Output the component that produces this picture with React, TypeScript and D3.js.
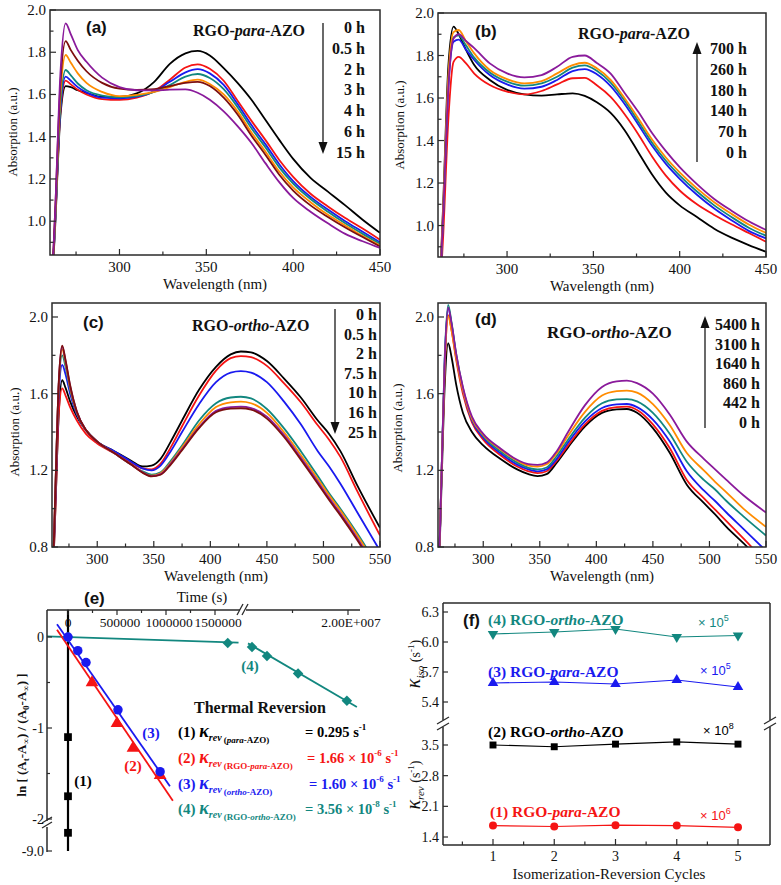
import React from 'react';
import * as d3 from 'd3';

const SERIF = '"Liberation Serif", "Times New Roman", "DejaVu Serif", serif';
const SANS = '"Liberation Sans", Arial, sans-serif';

const BLACK = '#000000';
const RED = '#f51414';
const BLUE = '#1a1aef';
const TEAL = '#12877f';
const ORANGE = '#ff8c00';
const BROWN = '#7d0f0f';
const PURPLE = '#8a1a9b';

// ---------- panel (a) / (b) wavelength grid ----------
const WL_AB = [260, 263, 266, 269, 272, 276, 281, 290, 300, 310, 320, 329, 338, 345, 352, 360, 368, 376, 384, 392, 400, 410, 420, 430, 440, 450];

const A_0H = [0.5, 0.98, 1.5, 1.64, 1.635, 1.62, 1.607, 1.588, 1.588, 1.605, 1.66, 1.745, 1.795, 1.806, 1.785, 1.725, 1.655, 1.575, 1.48, 1.385, 1.295, 1.205, 1.14, 1.075, 1.007, 0.945];
const A_05H = [0.5, 1.0, 1.52, 1.666, 1.648, 1.622, 1.6, 1.578, 1.574, 1.585, 1.615, 1.67, 1.728, 1.743, 1.722, 1.665, 1.57, 1.475, 1.385, 1.29, 1.21, 1.13, 1.07, 1.015, 0.965, 0.912];
const A_2H = [0.5, 1.0, 1.53, 1.685, 1.665, 1.635, 1.61, 1.585, 1.582, 1.59, 1.615, 1.66, 1.705, 1.72, 1.70, 1.645, 1.555, 1.455, 1.365, 1.27, 1.19, 1.115, 1.055, 1.0, 0.95, 0.90];
const A_3H = [0.5, 1.0, 1.55, 1.716, 1.69, 1.652, 1.62, 1.595, 1.587, 1.592, 1.612, 1.645, 1.685, 1.697, 1.678, 1.625, 1.54, 1.44, 1.35, 1.255, 1.178, 1.105, 1.045, 0.99, 0.94, 0.893];
const A_4H = [0.5, 1.02, 1.6, 1.787, 1.75, 1.70, 1.655, 1.612, 1.592, 1.598, 1.612, 1.635, 1.66, 1.67, 1.65, 1.60, 1.52, 1.42, 1.33, 1.235, 1.16, 1.09, 1.03, 0.98, 0.93, 0.885];
const A_6H = [0.5, 1.05, 1.65, 1.853, 1.81, 1.76, 1.71, 1.655, 1.628, 1.622, 1.625, 1.64, 1.655, 1.66, 1.64, 1.585, 1.505, 1.405, 1.315, 1.22, 1.145, 1.075, 1.02, 0.97, 0.925, 0.88];
const A_15H = [0.5, 1.05, 1.7, 1.937, 1.885, 1.81, 1.755, 1.68, 1.635, 1.62, 1.619, 1.623, 1.624, 1.608, 1.575, 1.52, 1.45, 1.37, 1.275, 1.185, 1.11, 1.045, 0.99, 0.94, 0.905, 0.873];
const A_LABELS = ['0 h', '0.5 h', '2 h', '3 h', '4 h', '6 h', '15 h'];

const B_0H = [0.5, 1.1, 1.75, 1.936, 1.90, 1.83, 1.755, 1.685, 1.638, 1.617, 1.611, 1.617, 1.622, 1.61, 1.58, 1.53, 1.45, 1.345, 1.24, 1.155, 1.095, 1.04, 0.985, 0.943, 0.908, 0.877];
const B_70H = [0.5, 0.95, 1.5, 1.77, 1.794, 1.765, 1.715, 1.661, 1.63, 1.617, 1.633, 1.664, 1.693, 1.695, 1.66, 1.605, 1.525, 1.43, 1.325, 1.235, 1.165, 1.10, 1.05, 1.006, 0.965, 0.924];
const B_140H = [0.5, 1.05, 1.65, 1.865, 1.875, 1.83, 1.779, 1.708, 1.664, 1.644, 1.653, 1.685, 1.727, 1.736, 1.712, 1.656, 1.573, 1.475, 1.375, 1.29, 1.22, 1.145, 1.08, 1.025, 0.975, 0.94];
const B_180H = [0.5, 1.06, 1.68, 1.885, 1.895, 1.85, 1.79, 1.72, 1.677, 1.658, 1.669, 1.70, 1.743, 1.754, 1.728, 1.672, 1.588, 1.49, 1.39, 1.305, 1.235, 1.16, 1.095, 1.04, 0.99, 0.952];
const B_260H = [0.5, 1.08, 1.7, 1.91, 1.92, 1.87, 1.81, 1.732, 1.689, 1.669, 1.68, 1.716, 1.755, 1.766, 1.74, 1.685, 1.60, 1.505, 1.405, 1.32, 1.25, 1.175, 1.11, 1.055, 1.005, 0.965];
const B_700H = [0.5, 1.05, 1.65, 1.88, 1.90, 1.87, 1.835, 1.763, 1.716, 1.697, 1.708, 1.747, 1.794, 1.80, 1.765, 1.715, 1.625, 1.535, 1.435, 1.35, 1.275, 1.195, 1.125, 1.07, 1.02, 0.979];
const B_LABELS = ['700 h', '260 h', '180 h', '140 h', '70 h', '0 h'];

// ---------- panel (c) / (d) wavelength grid ----------
const WL_CD = [260, 263, 266, 269, 272, 276, 282, 290, 300, 315, 330, 340, 348, 356, 365, 375, 390, 405, 418, 427, 436, 450, 465, 480, 495, 505, 515, 530, 550];

const C_0H = [0.5, 1.0, 1.5, 1.67, 1.63, 1.56, 1.48, 1.41, 1.35, 1.30, 1.25, 1.22, 1.225, 1.26, 1.35, 1.46, 1.62, 1.74, 1.805, 1.82, 1.815, 1.77, 1.68, 1.58, 1.46, 1.39, 1.30, 1.12, 0.90];
const C_05H = [0.5, 1.0, 1.5, 1.628, 1.59, 1.53, 1.46, 1.39, 1.34, 1.29, 1.24, 1.21, 1.205, 1.235, 1.32, 1.43, 1.59, 1.72, 1.785, 1.796, 1.79, 1.745, 1.655, 1.555, 1.435, 1.36, 1.27, 1.09, 0.86];
const C_2H = [0.5, 1.05, 1.6, 1.75, 1.70, 1.60, 1.49, 1.41, 1.35, 1.30, 1.245, 1.21, 1.20, 1.225, 1.30, 1.40, 1.545, 1.66, 1.71, 1.718, 1.71, 1.66, 1.56, 1.44, 1.30, 1.22, 1.13, 0.98, 0.78];
const C_75H = [0.5, 1.1, 1.65, 1.80, 1.74, 1.62, 1.50, 1.41, 1.35, 1.29, 1.23, 1.195, 1.178, 1.19, 1.25, 1.33, 1.46, 1.55, 1.58, 1.584, 1.575, 1.52, 1.42, 1.30, 1.17, 1.08, 1.0, 0.87, 0.68];
const C_10H = [0.5, 1.1, 1.65, 1.83, 1.76, 1.63, 1.50, 1.41, 1.35, 1.29, 1.23, 1.19, 1.172, 1.185, 1.24, 1.32, 1.44, 1.53, 1.555, 1.558, 1.55, 1.50, 1.40, 1.28, 1.155, 1.07, 0.99, 0.86, 0.67];
const C_16H = [0.5, 1.1, 1.66, 1.845, 1.77, 1.64, 1.505, 1.41, 1.35, 1.29, 1.23, 1.19, 1.17, 1.18, 1.235, 1.31, 1.425, 1.51, 1.53, 1.532, 1.525, 1.48, 1.385, 1.265, 1.14, 1.055, 0.975, 0.845, 0.65];
const C_25H = [0.5, 1.1, 1.66, 1.85, 1.775, 1.645, 1.505, 1.41, 1.35, 1.29, 1.23, 1.188, 1.168, 1.177, 1.23, 1.305, 1.42, 1.503, 1.522, 1.524, 1.517, 1.47, 1.375, 1.255, 1.13, 1.045, 0.965, 0.835, 0.64];
const C_LABELS = ['0 h', '0.5 h', '2 h', '7.5 h', '10 h', '16 h', '25 h'];

const D_0H = [0.5, 1.1, 1.65, 1.863, 1.79, 1.65, 1.50, 1.40, 1.33, 1.26, 1.205, 1.18, 1.17, 1.18, 1.24, 1.32, 1.43, 1.50, 1.518, 1.52, 1.50, 1.42, 1.29, 1.125, 1.03, 0.97, 0.905, 0.82, 0.70];
const D_442H = [0.5, 1.15, 1.75, 2.01, 1.93, 1.78, 1.60, 1.45, 1.36, 1.28, 1.22, 1.195, 1.185, 1.195, 1.25, 1.33, 1.44, 1.51, 1.53, 1.532, 1.515, 1.44, 1.315, 1.15, 1.055, 0.995, 0.935, 0.845, 0.72];
const D_860H = [0.5, 1.15, 1.78, 2.045, 1.96, 1.80, 1.62, 1.46, 1.37, 1.29, 1.23, 1.205, 1.195, 1.205, 1.26, 1.345, 1.455, 1.525, 1.544, 1.546, 1.53, 1.465, 1.35, 1.195, 1.095, 1.04, 0.98, 0.895, 0.78];
const D_1640H = [0.5, 1.15, 1.8, 2.063, 1.97, 1.81, 1.63, 1.47, 1.38, 1.30, 1.24, 1.213, 1.205, 1.215, 1.275, 1.36, 1.475, 1.55, 1.57, 1.572, 1.56, 1.50, 1.39, 1.245, 1.15, 1.10, 1.04, 0.96, 0.86];
const D_3100H = [0.5, 1.15, 1.75, 2.005, 1.93, 1.79, 1.62, 1.47, 1.385, 1.31, 1.25, 1.225, 1.22, 1.232, 1.29, 1.38, 1.505, 1.59, 1.613, 1.616, 1.605, 1.545, 1.435, 1.29, 1.20, 1.14, 1.085, 1.0, 0.905];
const D_5400H = [0.5, 1.15, 1.78, 2.05, 1.965, 1.81, 1.635, 1.48, 1.39, 1.315, 1.255, 1.232, 1.228, 1.24, 1.30, 1.40, 1.54, 1.635, 1.664, 1.668, 1.655, 1.60, 1.49, 1.35, 1.26, 1.205, 1.15, 1.07, 0.98];
const D_LABELS = ['5400 h', '3100 h', '1640 h', '860 h', '442 h', '0 h'];

// ---------- panel (e) ----------
const E1_T = [0, 0, 0];
const E1_V = [-1.1, -1.75, -8.35];
const E1_FIT_V = [0.3, -9.0];
const E2_T = [245000, 500000, 663000, 940000];
const E2_V = [-0.5, -0.95, -1.22, -1.52];
const E2_FIT_T = [-112000, 1070000];
const E2_FIT_V = [0.08, -1.8];
const E3_T = [0, 100000, 184000, 510000, 940000];
const E3_V = [0, -0.15, -0.28, -0.8, -1.48];
const E3_FIT_T = [-112000, 1040000];
const E3_FIT_V = [0.14, -1.64];
const E4_T = [0, 1630000, 2700000, 5400000, 11000000, 19800000];
const E4_V = [0, -0.066, -0.11, -0.21, -0.4, -0.7];
const E4_FIT1_T = [-214000, 1740000];
const E4_FIT1_V = [0.0075, -0.062];
const E4_FIT2_T = [1980000, 21600000];
const E4_FIT2_V = [-0.07, -0.77];
const E_TOP_TICKS = [0, 500000, 1000000, 1500000, 20000000];
const E_TOP_LABELS = ['0', '500000', '1000000', '1500000', '2.00E+007'];
const E_TOP_MINOR = [250000, 750000, 1250000, 10000000];
const E_LEFT_TICKS = [0, -1, -2, -9];
const E_LEFT_LABELS = ['0', '-1', '-2', '-9.0'];
const E_LEFT_MINOR = [-0.5, -1.5];

// ---------- panel (f) ----------
const F_CYCLES = [1, 2, 3, 4, 5];
const F4_ISO = [6.08, 6.1, 6.13, 6.05, 6.065];
const F3_ISO = [5.59, 5.6, 5.58, 5.62, 5.55];
const F2_REV = [3.5, 3.46, 3.52, 3.57, 3.52];
const F1_REV = [1.66, 1.64, 1.67, 1.66, 1.62];
const F_UP_TICKS = [6.3, 6.0, 5.7, 5.4];
const F_LOW_TICKS = [3.5, 2.8, 2.1, 1.4];

type SpecProps = {
  id: string; left: number; right: number; top: number; bottom: number;
  xDomain: [number, number]; yDomain: [number, number];
  xTicks: number[]; xMinor: number[]; yTicks: number[]; yMinor: number[];
  wl: number[]; curves: number[][]; colors: string[];
  yTitleX: number; yTitleY: number; yTitle: string;
};

function Spectrum(p: SpecProps) {
  const x = d3.scaleLinear().domain(p.xDomain).range([p.left, p.right]);
  const y = d3.scaleLinear().domain(p.yDomain).range([p.bottom, p.top]);
  const line = d3.line<number>().x((_, i) => x(p.wl[i])).y((d) => y(d)).curve(d3.curveMonotoneX);
  const fmt = d3.format('.1f');
  const ax = '#2a2a2a';
  return (
    <g>
      <clipPath id={p.id}>
        <rect x={p.left} y={p.top} width={p.right - p.left} height={p.bottom - p.top} />
      </clipPath>
      <g clipPath={`url(#${p.id})`}>
        {p.curves.map((c, i) => (
          <path key={i} d={line(c) ?? ''} fill="none" stroke={p.colors[i]} strokeWidth={1.8} strokeLinejoin="round" />
        ))}
      </g>
      <rect x={p.left} y={p.top} width={p.right - p.left} height={p.bottom - p.top} fill="none" stroke={ax} strokeWidth={1.5} />
      {p.xTicks.map((t) => (
        <g key={'xt' + t}>
          <line x1={x(t)} x2={x(t)} y1={p.bottom} y2={p.bottom - 6} stroke={ax} strokeWidth={1.2} />
          <text x={x(t)} y={p.bottom + 17} textAnchor="middle" fontSize={15} fontFamily={SERIF} fill="#111">{t}</text>
        </g>
      ))}
      {p.xMinor.map((t) => (
        <line key={'xm' + t} x1={x(t)} x2={x(t)} y1={p.bottom} y2={p.bottom - 3.5} stroke={ax} strokeWidth={1.2} />
      ))}
      {p.yTicks.map((t) => (
        <g key={'yt' + t}>
          <line x1={p.left} x2={p.left + 6} y1={y(t)} y2={y(t)} stroke={ax} strokeWidth={1.2} />
          <text x={p.left - 4} y={y(t) + 5} textAnchor="end" fontSize={15} fontFamily={SERIF} fill="#111">{fmt(t)}</text>
        </g>
      ))}
      {p.yMinor.map((t) => (
        <line key={'ym' + t} x1={p.left} x2={p.left + 3.5} y1={y(t)} y2={y(t)} stroke={ax} strokeWidth={1.2} />
      ))}
      <text x={(p.left + p.right) / 2} y={p.bottom + 34} textAnchor="middle" fontSize={15} fontFamily={SERIF} fill="#111">Wavelength (nm)</text>
      <text transform={`translate(${p.yTitleX},${p.yTitleY}) rotate(-90)`} textAnchor="middle" fontSize={13} fontFamily={SERIF} fill="#111">{p.yTitle}</text>
    </g>
  );
}

function Arrow({ x, yFrom, yTo }: { x: number; yFrom: number; yTo: number }) {
  const dir = yTo > yFrom ? 1 : -1;
  return (
    <g>
      <line x1={x} x2={x} y1={yFrom} y2={yTo - dir * 8} stroke="#444" strokeWidth={1.6} />
      <path d={`M${x - 4.5},${yTo - dir * 12} L${x + 4.5},${yTo - dir * 12} L${x},${yTo} Z`} fill="#111" />
    </g>
  );
}

function Labels({ labels, xRight, y0, step }: { labels: string[]; xRight: number; y0: number; step: number }) {
  return (
    <g>
      {labels.map((l, i) => (
        <text key={i} x={xRight} y={y0 + i * step} textAnchor="end" fontWeight="bold" fontSize={16} fontFamily={SERIF} fill="#111">{l}</text>
      ))}
    </g>
  );
}

function Title({ x, y, mid, size }: { x: number; y: number; mid: string; size: number }) {
  return (
    <text x={x} y={y} fontWeight="bold" fontSize={size} fontFamily={SERIF} fill="#111">
      RGO-<tspan fontStyle="italic">{mid}</tspan>-AZO
    </text>
  );
}

function EqLine(p: { y: number; color: string; num: string; pre: string; it: string; post: string; vx: number; val: string; exp: string; tail?: string; exp2?: string }) {
  return (
    <g fill={p.color} fontFamily={SERIF}>
      <text x={178} y={p.y} fontSize={15} fontWeight="bold">
        {p.num} <tspan fontStyle="italic" fontSize={18}>κ</tspan>
        <tspan fontStyle="italic" fontSize={10} dy={4}>rev</tspan>
        <tspan fontSize={9} dy={2}> {p.pre}</tspan>
        <tspan fontSize={9} fontStyle="italic">{p.it}</tspan>
        <tspan fontSize={9}>{p.post}</tspan>
      </text>
      <text x={p.vx} y={p.y} fontSize={14.5} fontWeight="bold">
        {p.val}<tspan fontSize={9} dy={-7}>{p.exp}</tspan>
        {p.tail ? <tspan dy={7}>{p.tail}</tspan> : null}
        {p.exp2 ? <tspan fontSize={9} dy={-7}>{p.exp2}</tspan> : null}
      </text>
    </g>
  );
}

function PanelE() {
  const sx1 = d3.scaleLinear().domain([0, 1.5e6]).range([68, 215]);
  const sx2 = d3.scaleLinear().domain([1.8e6, 2.0e7]).range([247, 348]);
  const ex = (t: number) => (t < 1.79e6 ? sx1(t) : sx2(t));
  const eyU = d3.scaleLinear().domain([0, -1]).range([637, 728]);
  const eyL = d3.scaleLinear().domain([-9, -8]).range([851, 823]);
  const ey = (v: number) => (v > -4 ? eyU(v) : eyL(v));
  const seg = (ts: number[], vs: number[]) =>
    d3.line<number>().x((_, i) => ex(ts[i])).y((_, i) => ey(vs[i]))(ts) ?? '';
  const sq = d3.symbol().type(d3.symbolSquare).size(60)() ?? '';
  const circ = d3.symbol().type(d3.symbolCircle).size(70)() ?? '';
  const tri = d3.symbol().type(d3.symbolTriangle).size(70)() ?? '';
  const dia = d3.symbol().type(d3.symbolSquare).size(55)() ?? '';
  const ax = '#2a2a2a';
  const topY = 610;
  const leftX = 47;
  return (
    <g fontFamily={SERIF}>
      <path d={seg([0, 0], E1_FIT_V)} stroke={BLACK} strokeWidth={2.2} fill="none" />
      <path d={seg(E4_FIT1_T, E4_FIT1_V)} stroke={TEAL} strokeWidth={1.8} fill="none" />
      <path d={seg(E4_FIT2_T, E4_FIT2_V)} stroke={TEAL} strokeWidth={1.8} fill="none" />
      <path d={seg(E2_FIT_T, E2_FIT_V)} stroke={RED} strokeWidth={1.8} fill="none" />
      <path d={seg(E3_FIT_T, E3_FIT_V)} stroke={BLUE} strokeWidth={1.8} fill="none" />
      {E1_T.map((t, i) => <path key={'e1' + i} d={sq} transform={`translate(${ex(t)},${ey(E1_V[i])})`} fill={BLACK} />)}
      {E2_T.map((t, i) => <path key={'e2' + i} d={tri} transform={`translate(${ex(t)},${ey(E2_V[i])})`} fill={RED} />)}
      {E4_T.map((t, i) => <path key={'e4' + i} d={dia} transform={`translate(${ex(t)},${ey(E4_V[i])}) rotate(45)`} fill={TEAL} />)}
      {E3_T.map((t, i) => <path key={'e3' + i} d={circ} transform={`translate(${ex(t)},${ey(E3_V[i])})`} fill={BLUE} />)}
      <line x1={leftX} x2={240} y1={topY} y2={topY} stroke={ax} strokeWidth={1.5} />
      <line x1={246} x2={360} y1={topY} y2={topY} stroke={ax} strokeWidth={1.5} />
      <line x1={237} x2={243} y1={615} y2={604} stroke={ax} strokeWidth={1.3} />
      <line x1={242} x2={248} y1={615} y2={604} stroke={ax} strokeWidth={1.3} />
      {E_TOP_TICKS.map((t, i) => (
        <g key={'tt' + t}>
          <line x1={ex(t)} x2={ex(t)} y1={topY} y2={topY + 5} stroke={ax} strokeWidth={1.2} />
          <text x={ex(t) + (i === 0 ? 0 : 3)} y={topY + 17} textAnchor="middle" fontSize={13.5} fill="#111">{E_TOP_LABELS[i]}</text>
        </g>
      ))}
      {E_TOP_MINOR.map((t) => <line key={'tm' + t} x1={ex(t)} x2={ex(t)} y1={topY} y2={topY + 3} stroke={ax} strokeWidth={1.2} />)}
      <text x={202} y={602} textAnchor="middle" fontSize={15} fill="#111">Time (s)</text>
      <text x={84} y={604} fontSize={17} fontWeight="bold" fontFamily={SANS} fill="#111">(e)</text>
      <line x1={leftX} x2={leftX} y1={topY} y2={821} stroke={ax} strokeWidth={1.5} />
      <line x1={leftX} x2={leftX} y1={827} y2={852} stroke={ax} strokeWidth={1.5} />
      <line x1={42} x2={52} y1={823} y2={817} stroke={ax} strokeWidth={1.3} />
      <line x1={42} x2={52} y1={828} y2={822} stroke={ax} strokeWidth={1.3} />
      {E_LEFT_TICKS.map((v, i) => (
        <g key={'lt' + v}>
          <line x1={leftX} x2={leftX + 5} y1={ey(v)} y2={ey(v)} stroke={ax} strokeWidth={1.2} />
          <text x={leftX - 3} y={ey(v) + 5} textAnchor="end" fontSize={14} fill="#111">{E_LEFT_LABELS[i]}</text>
        </g>
      ))}
      {E_LEFT_MINOR.map((v) => <line key={'lm' + v} x1={leftX} x2={leftX + 3} y1={ey(v)} y2={ey(v)} stroke={ax} strokeWidth={1.2} />)}
      <text transform="translate(26,735) rotate(-90)" textAnchor="middle" fontSize={13} fontWeight="bold" fill="#111">
        ln [ (A<tspan fontSize={9} dy={3}>t</tspan><tspan dy={-3}>-A</tspan><tspan fontSize={9} dy={3}>∞</tspan><tspan dy={-3}>) / (A</tspan><tspan fontSize={9} dy={3}>0</tspan><tspan dy={-3}>-A</tspan><tspan fontSize={9} dy={3}>∞</tspan><tspan dy={-3}>) ]</tspan>
      </text>
      <text x={83} y={786} textAnchor="middle" fontSize={15} fontWeight="bold" fill={BLACK}>(1)</text>
      <text x={133} y={771} textAnchor="middle" fontSize={15} fontWeight="bold" fill={RED}>(2)</text>
      <text x={151} y={738} textAnchor="middle" fontSize={15} fontWeight="bold" fill={BLUE}>(3)</text>
      <text x={250} y={671} textAnchor="middle" fontSize={15} fontWeight="bold" fill={TEAL}>(4)</text>
      <text x={260} y={713} textAnchor="middle" fontSize={16} fontWeight="bold" fill="#111">Thermal Reversion</text>
      <EqLine y={737} color={BLACK} num="(1)" pre="(" it="para" post="-AZO)" vx={305} val="= 0.295 s" exp="-1" />
      <EqLine y={763} color={RED} num="(2)" pre="(RGO-" it="para" post="-AZO)" vx={307} val="= 1.66 × 10" exp="-6" tail=" s" exp2="-1" />
      <EqLine y={789} color={BLUE} num="(3)" pre="(" it="ortho" post="-AZO)" vx={309} val="= 1.60 × 10" exp="-6" tail=" s" exp2="-1" />
      <EqLine y={814} color={TEAL} num="(4)" pre="(RGO-" it="ortho" post="-AZO)" vx={305} val="= 3.56 × 10" exp="-8" tail=" s" exp2="-1" />
    </g>
  );
}

function Mult({ x, y, exp, color }: { x: number; y: number; exp: string; color: string }) {
  return (
    <text x={x} y={y} fontSize={13} fontFamily={SANS} fill={color}>
      × 10<tspan fontSize={9} dy={-6}>{exp}</tspan>
    </text>
  );
}

function PanelF() {
  const L = 443, R = 770, T = 603, B = 845;
  const fx = d3.scaleLinear().domain([1, 5]).range([493, 738]);
  const fyU = d3.scaleLinear().domain([6.0, 6.3]).range([642, 612]);
  const fyL = d3.scaleLinear().domain([1.4, 3.5]).range([837, 745]);
  const ax = '#2a2a2a';
  const lineU = d3.line<number>().x((_, i) => fx(F_CYCLES[i])).y((d) => fyU(d));
  const lineL = d3.line<number>().x((_, i) => fx(F_CYCLES[i])).y((d) => fyL(d));
  const sq = d3.symbol().type(d3.symbolSquare).size(48)() ?? '';
  const circ = d3.symbol().type(d3.symbolCircle).size(50)() ?? '';
  const tri = d3.symbol().type(d3.symbolTriangle).size(48)() ?? '';
  const fmt = d3.format('.1f');
  return (
    <g fontFamily={SERIF}>
      <path d={lineU(F4_ISO) ?? ''} stroke={TEAL} fill="none" strokeWidth={1.2} />
      <path d={lineU(F3_ISO) ?? ''} stroke={BLUE} fill="none" strokeWidth={1.2} />
      <path d={lineL(F2_REV) ?? ''} stroke={BLACK} fill="none" strokeWidth={1.2} />
      <path d={lineL(F1_REV) ?? ''} stroke={RED} fill="none" strokeWidth={1.2} />
      {F_CYCLES.map((c, i) => (
        <g key={'fm' + c}>
          <path d={tri} transform={`translate(${fx(c)},${fyU(F4_ISO[i])}) rotate(180)`} fill={TEAL} />
          <path d={tri} transform={`translate(${fx(c)},${fyU(F3_ISO[i])})`} fill={BLUE} />
          <path d={sq} transform={`translate(${fx(c)},${fyL(F2_REV[i])})`} fill={BLACK} />
          <path d={circ} transform={`translate(${fx(c)},${fyL(F1_REV[i])})`} fill={RED} />
        </g>
      ))}
      <line x1={L} x2={R} y1={T} y2={T} stroke={ax} strokeWidth={1.5} />
      <line x1={L} x2={R} y1={B} y2={B} stroke={ax} strokeWidth={1.5} />
      <line x1={L} x2={L} y1={T} y2={720} stroke={ax} strokeWidth={1.5} />
      <line x1={L} x2={L} y1={727} y2={B} stroke={ax} strokeWidth={1.5} />
      <line x1={R} x2={R} y1={T} y2={720} stroke={ax} strokeWidth={1.5} />
      <line x1={R} x2={R} y1={727} y2={B} stroke={ax} strokeWidth={1.5} />
      <line x1={L - 6} x2={L + 6} y1={724} y2={717} stroke={ax} strokeWidth={1.3} />
      <line x1={L - 6} x2={L + 6} y1={730} y2={723} stroke={ax} strokeWidth={1.3} />
      <line x1={R - 6} x2={R + 6} y1={724} y2={717} stroke={ax} strokeWidth={1.3} />
      <line x1={R - 6} x2={R + 6} y1={730} y2={723} stroke={ax} strokeWidth={1.3} />
      {F_UP_TICKS.map((v) => (
        <g key={'fu' + v}>
          <line x1={L} x2={L + 5} y1={fyU(v)} y2={fyU(v)} stroke={ax} strokeWidth={1.2} />
          <text x={L - 4} y={fyU(v) + 5} textAnchor="end" fontSize={14} fill="#111">{fmt(v)}</text>
        </g>
      ))}
      {F_LOW_TICKS.map((v) => (
        <g key={'fl' + v}>
          <line x1={L} x2={L + 5} y1={fyL(v)} y2={fyL(v)} stroke={ax} strokeWidth={1.2} />
          <text x={L - 4} y={fyL(v) + 5} textAnchor="end" fontSize={14} fill="#111">{fmt(v)}</text>
        </g>
      ))}
      {F_CYCLES.map((c) => (
        <g key={'fx' + c}>
          <line x1={fx(c)} x2={fx(c)} y1={B} y2={B - 6} stroke={ax} strokeWidth={1.2} />
          <text x={fx(c)} y={B + 16} textAnchor="middle" fontSize={14} fill="#111">{c}</text>
        </g>
      ))}
      {F_CYCLES.map((c) => (
        <line key={'fxm' + c} x1={fx(c - 0.5)} x2={fx(c - 0.5)} y1={B} y2={B - 3.5} stroke={ax} strokeWidth={1.2} />
      ))}
      <text x={609} y={879} textAnchor="middle" fontSize={15} fill="#111">Isomerization-Reversion Cycles</text>
      <text transform="translate(420,664) rotate(-90)" textAnchor="middle" fontSize={14} fill="#111">
        <tspan fontStyle="italic" fontSize={20}>κ</tspan><tspan fontStyle="italic" fontSize={11} dy={4}>iso</tspan><tspan dy={-4}> (s</tspan><tspan fontSize={9} dy={-6}>-1</tspan><tspan dy={6}>)</tspan>
      </text>
      <text transform="translate(420,785) rotate(-90)" textAnchor="middle" fontSize={14} fill="#111">
        <tspan fontStyle="italic" fontSize={20}>κ</tspan><tspan fontStyle="italic" fontSize={11} dy={4}>rev</tspan><tspan dy={-4}> (s</tspan><tspan fontSize={9} dy={-6}>-1</tspan><tspan dy={6}>)</tspan>
      </text>
      <text x={463} y={626} fontSize={17} fontWeight="bold" fontFamily={SANS} fill="#111">(f)</text>
      <text x={488} y={625} fontSize={15.5} fontWeight="bold" fill={TEAL}>(4) RGO-<tspan fontStyle="italic">ortho</tspan>-AZO</text>
      <text x={488} y={677} fontSize={15.5} fontWeight="bold" fill={BLUE}>(3) RGO-<tspan fontStyle="italic">para</tspan>-AZO</text>
      <text x={488} y={737} fontSize={15.5} fontWeight="bold" fill={BLACK}>(2) RGO-<tspan fontStyle="italic">ortho</tspan>-AZO</text>
      <text x={490} y={817} fontSize={15.5} fontWeight="bold" fill={RED}>(1) RGO-<tspan fontStyle="italic">para</tspan>-AZO</text>
      <Mult x={698} y={627} exp="5" color={TEAL} />
      <Mult x={700} y={675} exp="5" color={BLUE} />
      <Mult x={703} y={735} exp="8" color={BLACK} />
      <Mult x={700} y={820} exp="6" color={RED} />
    </g>
  );
}

export default function App() {
  return (
    <svg width={781} height={885} style={{ position: 'absolute', left: 0, top: 0, background: '#fff' }} fontFamily={SERIF}>
      <rect width={781} height={885} fill="#fff" />
      <Spectrum id="ca" left={50} right={380} top={10} bottom={255} xDomain={[260, 450]} yDomain={[0.84, 2.0]}
        xTicks={[300, 350, 400, 450]} xMinor={[275, 325, 375, 425]} yTicks={[1.0, 1.2, 1.4, 1.6, 1.8, 2.0]} yMinor={[0.9, 1.1, 1.3, 1.5, 1.7, 1.9]}
        wl={WL_AB} curves={[A_0H, A_05H, A_2H, A_3H, A_4H, A_6H, A_15H]} colors={[BLACK, RED, BLUE, TEAL, ORANGE, BROWN, PURPLE]}
        yTitleX={17} yTitleY={132} yTitle="Absorption (a.u.)" />
      <Spectrum id="cb" left={438} right={766} top={13} bottom={257} xDomain={[260, 450]} yDomain={[0.852, 2.0]}
        xTicks={[300, 350, 400, 450]} xMinor={[275, 325, 375, 425]} yTicks={[1.0, 1.2, 1.4, 1.6, 1.8, 2.0]} yMinor={[0.9, 1.1, 1.3, 1.5, 1.7, 1.9]}
        wl={WL_AB} curves={[B_0H, B_70H, B_140H, B_180H, B_260H, B_700H]} colors={[BLACK, RED, BLUE, TEAL, ORANGE, PURPLE]}
        yTitleX={404} yTitleY={125} yTitle="Absorption (a.u.)" />
      <Spectrum id="cc" left={52} right={380} top={303} bottom={547} xDomain={[260, 550]} yDomain={[0.8, 2.073]}
        xTicks={[300, 350, 400, 450, 500, 550]} xMinor={[275, 325, 375, 425, 475, 525]} yTicks={[0.8, 1.2, 1.6, 2.0]} yMinor={[1.0, 1.4, 1.8]}
        wl={WL_CD} curves={[C_0H, C_05H, C_2H, C_75H, C_10H, C_16H, C_25H]} colors={[BLACK, RED, BLUE, TEAL, ORANGE, PURPLE, BROWN]}
        yTitleX={19} yTitleY={432} yTitle="Absorption (a.u.)" />
      <Spectrum id="cd" left={438} right={766} top={303} bottom={547} xDomain={[260, 550]} yDomain={[0.8, 2.073]}
        xTicks={[300, 350, 400, 450, 500, 550]} xMinor={[275, 325, 375, 425, 475, 525]} yTicks={[0.8, 1.2, 1.6, 2.0]} yMinor={[1.0, 1.4, 1.8]}
        wl={WL_CD} curves={[D_0H, D_442H, D_860H, D_1640H, D_3100H, D_5400H]} colors={[BLACK, RED, BLUE, TEAL, ORANGE, PURPLE]}
        yTitleX={402} yTitleY={428} yTitle="Absorption  (a.u.)" />

      <text x={86} y={33} fontSize={17} fontWeight="bold" fontFamily={SANS} fill="#111">(a)</text>
      <Title x={193} y={36} mid="para" size={16} />
      <Arrow x={323} yFrom={23} yTo={154} />
      <Labels labels={A_LABELS} xRight={365} y0={33} step={20.8} />

      <text x={475} y={37} fontSize={17} fontWeight="bold" fontFamily={SANS} fill="#111">(b)</text>
      <Title x={578} y={39} mid="para" size={16} />
      <Arrow x={697} yFrom={162} yTo={42} />
      <Labels labels={B_LABELS} xRight={747} y0={54} step={20.8} />

      <text x={83} y={328} fontSize={17} fontWeight="bold" fontFamily={SANS} fill="#111">(c)</text>
      <Title x={192} y={331} mid="ortho" size={16} />
      <Arrow x={335} yFrom={309} yTo={434} />
      <Labels labels={C_LABELS} xRight={377} y0={320} step={19.6} />

      <text x={475} y={325} fontSize={17} fontWeight="bold" fontFamily={SANS} fill="#111">(d)</text>
      <Title x={547} y={338} mid="ortho" size={17} />
      <Arrow x={705} yFrom={428} yTo={316} />
      <Labels labels={D_LABELS} xRight={760} y0={330} step={19.6} />

      <PanelE />
      <PanelF />
    </svg>
  );
}
